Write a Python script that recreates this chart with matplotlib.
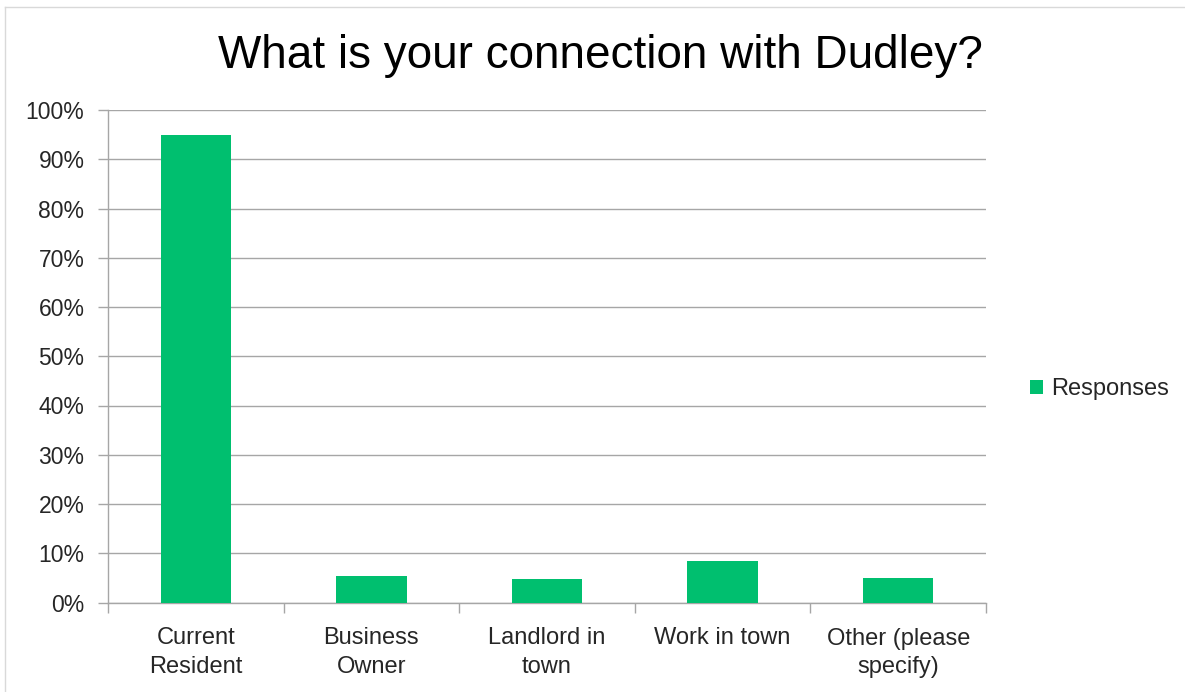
import matplotlib
matplotlib.use("Agg")
import matplotlib.pyplot as plt
from matplotlib.lines import Line2D
from matplotlib.ticker import FuncFormatter

categories = ["Current\nResident", "Business\nOwner", "Landlord in\ntown", "Work in town", "Other (please\nspecify)"]
responses = [94.9, 5.4, 4.8, 8.4, 4.9]
series_name = "Responses"
title = "What is your connection with Dudley?"

plt.rcParams['font.family'] = ['Liberation Sans', 'DejaVu Sans']

W, H = 1185, 692
fig = plt.figure(figsize=(W/100, H/100), dpi=100)
ax = fig.add_axes([108/W, 1-602.5/H, (986-108)/W, (602.5-110)/H])

green = "#00BF6F"
txt = '#262626'
x = list(range(len(categories)))
ax.bar(x, responses, width=0.4, color=green, label=series_name, zorder=3)

ax.set_xlim(-0.5, len(categories)-0.5)
ax.set_ylim(0, 100)
ax.set_yticks(range(0, 101, 10))
ax.yaxis.set_major_formatter(FuncFormatter(lambda v, p: f"{int(v)}%"))
ax.grid(axis='y', color='#a6a6a6', linewidth=1, zorder=0)
ax.tick_params(axis='y', length=7, width=1, color='#a6a6a6', labelsize=16.5, labelcolor=txt, pad=10)
ax.set_xticks(x)
ax.set_xticklabels(categories, fontsize=17, color=txt, linespacing=1.4)
ax.tick_params(axis='x', length=0, pad=18)
# category boundary ticks
ax.set_xticks([i - 0.5 for i in range(len(categories)+1)], minor=True)
ax.tick_params(axis='x', which='minor', length=7, color='#a6a6a6', width=1)

for s in ['top', 'right']:
    ax.spines[s].set_visible(False)
ax.spines['left'].set_color('#a6a6a6')
ax.spines['bottom'].set_color('#a6a6a6')
ax.spines['left'].set_linewidth(1)
ax.spines['bottom'].set_linewidth(1)

fig.text(600/W, 1-68/H, title, fontsize=33, ha='center', va='baseline', color='black')

leg = fig.legend(loc='center left', bbox_to_anchor=(1009/W, 1-389/H), frameon=False,
                 fontsize=17, handlelength=0.55, handleheight=0.55, handletextpad=0.35)
for t in leg.get_texts():
    t.set_color(txt)

fig.add_artist(Line2D([5/W, 5/W], [0, 1-7/H], transform=fig.transFigure, color='#d9d9d9', linewidth=1))
fig.add_artist(Line2D([5/W, 1], [1-7/H, 1-7/H], transform=fig.transFigure, color='#d9d9d9', linewidth=1))

fig.savefig("out.png", dpi=100)
